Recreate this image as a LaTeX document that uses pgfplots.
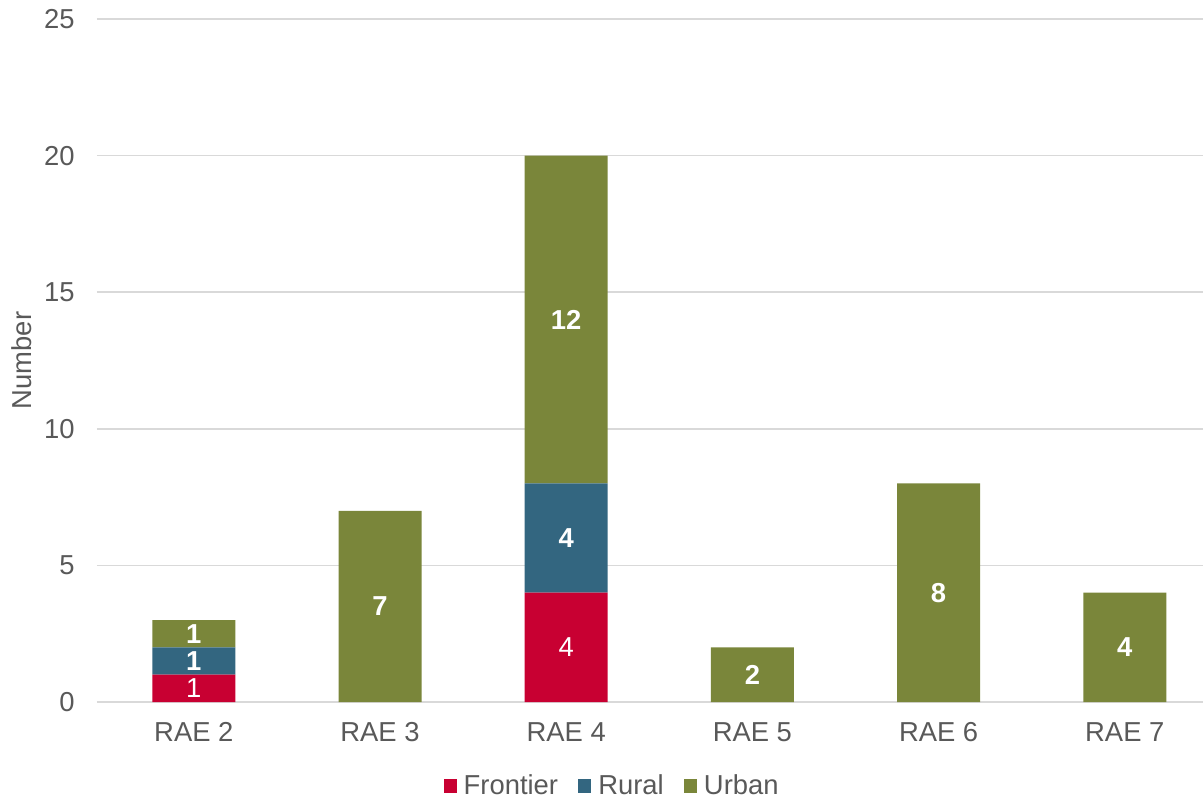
\documentclass[border=0pt]{standalone}
\usepackage{pgfplots}
\pgfplotsset{compat=1.18}
\usepackage{fontspec}
\setmainfont{Liberation Sans}
\definecolor{frontier}{HTML}{C80032}
\definecolor{rural}{HTML}{336680}
\definecolor{urban}{HTML}{7A863A}
\definecolor{txt}{HTML}{595959}
\definecolor{grid}{HTML}{D9D9D9}
\newcommand{\fs}{\fontsize{13.7}{16}\selectfont}
\begin{document}
\begin{tikzpicture}
\path[use as bounding box] (-48.5pt,-48pt) rectangle (553pt,351pt);
\begin{axis}[
  at={(0,0)}, anchor=south west,
  scale only axis, width=553pt, height=341.5pt,
  ybar stacked, bar width=41.5pt,
  xmin=-0.52, xmax=5.42, ymin=0, ymax=25,
  xtick={0,1,2,3,4,5},
  xticklabels={RAE 2,RAE 3,RAE 4,RAE 5,RAE 6,RAE 7},
  ytick={0,5,10,15,20,25},
  major tick length=0pt,
  xtick style={draw=none}, ytick style={draw=none},
  ymajorgrids, xmajorgrids=false,
  grid style={draw=grid, line width=0.75pt},
  axis line style={draw=none},
  /pgf/number format/assume math mode=true,
  tick label style={font=\fs, text=txt},
  yticklabel style={inner sep=0pt, xshift=-11pt},
  xticklabel style={inner sep=0pt, yshift=-10pt},
  ylabel={Number},
  every axis y label/.style={at={(axis description cs:-0.0678,0.5)}, rotate=90, anchor=center, font=\fs, text=txt},
  legend columns=3,
  legend style={at={(0.4666,-0.123)}, anchor=center, draw=none, fill=none,
    font=\fs, text=txt,
    /tikz/every odd column/.append style={column sep=1.5pt},
    /tikz/every even column/.append style={column sep=8pt}},
  legend image code/.code={\fill[#1] (0pt,-3.3pt) rectangle (6.6pt,3.3pt);},
]
\addplot[fill=frontier, draw=none] coordinates {(0,1) (1,0) (2,4) (3,0) (4,0) (5,0)};
\addplot[fill=rural, draw=none] coordinates {(0,1) (1,0) (2,4) (3,0) (4,0) (5,0)};
\addplot[fill=urban, draw=none] coordinates {(0,1) (1,7) (2,12) (3,2) (4,8) (5,4)};
\legend{Frontier,Rural,Urban}
\end{axis}
\begin{axis}[
  at={(0,0)}, anchor=south west,
  scale only axis, width=553pt, height=341.5pt,
  xmin=-0.52, xmax=5.42, ymin=0, ymax=25,
  hide axis,
  nodes near coords, point meta=explicit symbolic,
  every node near coord/.append style={anchor=center, text=white, font=\fs\bfseries, inner sep=0pt},
]
% Frontier labels (regular weight)
\addplot[only marks, mark=none, every node near coord/.append style={font=\fs\mdseries}] coordinates {(0,0.5) [1] (2,2) [4]};
% Rural labels
\addplot[only marks, mark=none] coordinates {(0,1.5) [1] (2,6) [4]};
% Urban labels
\addplot[only marks, mark=none] coordinates {(0,2.5) [1] (1,3.5) [7] (2,14) [12] (3,1) [2] (4,4) [8] (5,2) [4]};
\end{axis}
\end{tikzpicture}
\end{document}
